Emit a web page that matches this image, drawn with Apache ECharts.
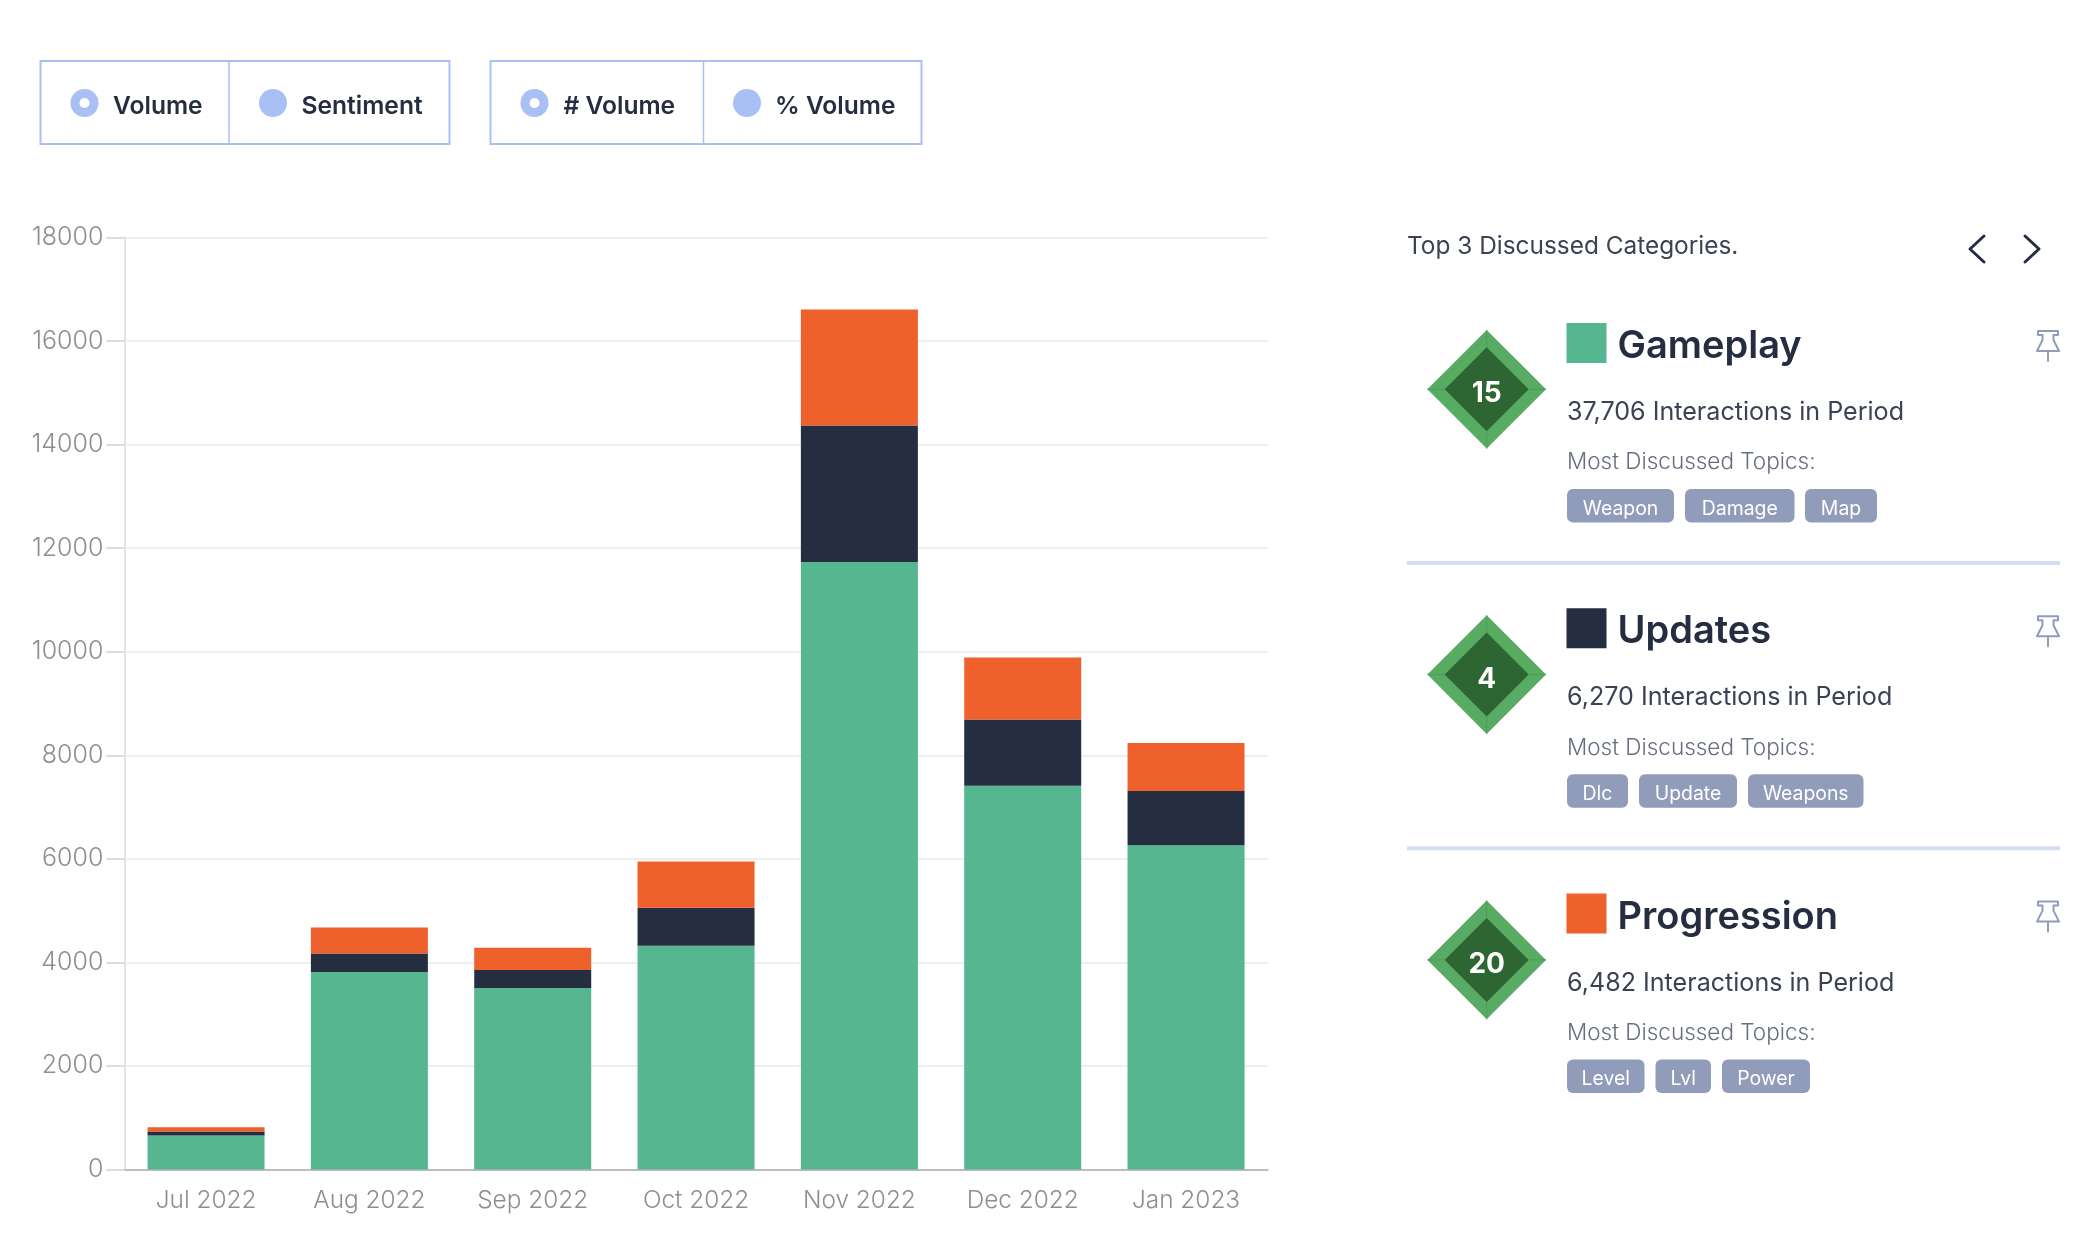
<!DOCTYPE html>
<html>
<head>
<meta charset="utf-8">
<title>Discussion volume</title>
<script src="https://cdn.jsdelivr.net/npm/echarts@6/dist/echarts.min.js"></script>
<style>
  html, body { margin: 0; padding: 0; background: #fff; }
  #chart { width: 2080px; height: 1246px; }
</style>
</head>
<body>
<div id="chart"></div>
<script>
// Monthly interactions per discussion category
const categories = ['Jul 2022', 'Aug 2022', 'Sep 2022', 'Oct 2022', 'Nov 2022', 'Dec 2022', 'Jan 2023'];
const gameplay = [657, 3815, 3505, 4322, 11735, 7410, 6262];
const updates = [77, 355, 350, 735, 2635, 1280, 1050];
const progression = [83, 505, 430, 890, 2240, 1197, 925];

// Side panel content
const panelTitle = 'Top 3 Discussed Categories.';
const cardNames = ['Gameplay', 'Updates', 'Progression'];
const cardInteractions = ['37,706', '6,270', '6,482'];
const cardRanks = ['15', '4', '20'];
const cardTopics = [['Weapon', 'Damage', 'Map'], ['Dlc', 'Update', 'Weapons'], ['Level', 'Lvl', 'Power']];

// Toggle groups above the chart
const toggleLabels = ['Volume', 'Sentiment', '# Volume', '% Volume'];

const GREEN = '#55B690', NAVY = '#252D40', ORANGE = '#EE612D';
const SWATCHES = [GREEN, NAVY, ORANGE];
const FONT = 'Inter, "Open Sans", sans-serif';
const ACCENT = '#A9C0F5';
const PIN = '#919CBB';

// Panel layout
const CARD_PITCH = 285.3;
const TAG_SPANS = [
  [[1567, 1674], [1685, 1794.5], [1805, 1877]],
  [[1567, 1628], [1639, 1737], [1748, 1863.5]],
  [[1567, 1644.5], [1655.5, 1711], [1722, 1810]]
];

const el = [];
const text = (x, y, t, size, color, weight, align) => el.push({
  type: 'text', silent: true,
  style: { x, y, text: t, fontFamily: FONT, fontSize: size, fontWeight: weight || 400,
           fill: color, align: align || 'left', verticalAlign: 'middle' }
});
const rect = (x, y, w, h, style, r) => el.push({
  type: 'rect', silent: true, shape: { x, y, width: w, height: h, r: r || 0 }, style
});
const poly = (points, style) => el.push({ type: 'polygon', silent: true, shape: { points }, style });
const line = (points, color, width) => el.push({
  type: 'polyline', silent: true, shape: { points },
  style: { stroke: color, lineWidth: width, fill: null, lineCap: 'round', lineJoin: 'round' }
});

// Toggle frames and radio marks
[[40.5, 229, 449.5], [490.5, 703.5, 921.5]].forEach(([a, b, c]) => {
  rect(a, 61, c - a, 83, { fill: '#fff', stroke: ACCENT, lineWidth: 2 });
  line([[b, 61], [b, 144]], ACCENT, 1.5);
});
[[84.5, 113, true], [273, 301.5, false], [534.5, 563.5, true], [747, 775, false]].forEach(([cx, tx, on], i) => {
  el.push({ type: 'circle', silent: true, shape: { cx, cy: 103, r: 14 }, style: { fill: ACCENT } });
  if (on) el.push({ type: 'circle', silent: true, shape: { cx, cy: 103, r: 5 }, style: { fill: '#fff' } });
  text(tx, 107, toggleLabels[i], 24.6, NAVY, 600);
});

// Panel heading and pager chevrons
text(1407, 246.5, panelTitle, 24.4, '#3A4254', 400);
line([[1984, 236], [1970, 249], [1984, 262]], NAVY, 3);
line([[2025, 236], [2039, 249], [2025, 262]], NAVY, 3);

cardNames.forEach((name, i) => {
  const dy = i * CARD_PITCH;
  const cx = 1486.7, cy = 389.3 + dy;
  // Rank badge: outer diamond with bevel seams, inner diamond, number
  poly([[cx, cy - 59.3], [cx + 59.3, cy], [cx, cy + 59.3], [cx - 59.3, cy]], { fill: '#57AB62' });
  line([[cx, cy - 59], [cx, cy - 42]], '#4E9E59', 1);
  line([[cx, cy + 59], [cx, cy + 42]], '#4E9E59', 1);
  line([[cx - 59, cy], [cx - 42, cy]], '#4E9E59', 1);
  line([[cx + 59, cy], [cx + 42, cy]], '#4E9E59', 1);
  poly([[cx, cy - 42], [cx + 42, cy], [cx, cy + 42], [cx - 42, cy]], { fill: '#2D6632' });
  text(cx, cy + 4.5, cardRanks[i], 28, '#fff', 700, 'center');

  rect(1566.5, 323 + dy, 40, 40, { fill: SWATCHES[i] });
  text(1617.5, 346.5 + dy, name, 38, NAVY, 600);
  text(1567, 412.5 + dy, cardInteractions[i] + ' Interactions in Period', 25.1, '#3A4254', 400);
  text(1567, 462.5 + dy, 'Most Discussed Topics:', 22.5, '#666D7E', 300);

  cardTopics[i].forEach((topic, j) => {
    const [a, b] = TAG_SPANS[i][j];
    rect(a, 489 + dy, b - a, 33.5, { fill: '#919CBB' }, 6);
    text((a + b) / 2, 509 + dy, topic, 19.4, '#fff', 400, 'center');
  });

  // Pin icon
  const px = 2048, py = 330 + dy;
  poly([[px - 10, py + 1], [px + 10, py + 1], [px + 10, py + 5], [px + 5.5, py + 5], [px + 5.5, py + 10],
        [px + 11, py + 21], [px - 11, py + 21], [px - 5.5, py + 10], [px - 5.5, py + 5], [px - 10, py + 5]],
       { fill: '#fff', stroke: PIN, lineWidth: 2, lineJoin: 'round' });
  line([[px, py + 22], [px, py + 31]], PIN, 2);

  if (i < 2) rect(1407, 561 + dy, 653, 4, { fill: '#D3DDF3' });
});

const barSeries = (name, data, color) => ({
  name, type: 'bar', stack: 'volume', data, barWidth: 117,
  itemStyle: { color }, silent: true, animation: false
});

const chart = echarts.init(document.getElementById('chart'), null, { renderer: 'canvas' });
chart.setOption({
  animation: false,
  backgroundColor: '#fff',
  grid: { left: 124.4, top: 237.5, width: 1143.3, height: 932, containLabel: false },
  xAxis: {
    type: 'category', data: categories,
    axisLine: { lineStyle: { color: '#BDBDBD', width: 2 } },
    axisTick: { show: false },
    axisLabel: { fontFamily: FONT, fontSize: 24.4, fontWeight: 300, color: '#8E8E8E', margin: 19 }
  },
  yAxis: {
    type: 'value', min: 0, max: 18000, interval: 2000,
    axisLine: { show: true, lineStyle: { color: '#E3E3E3', width: 2 } },
    axisTick: { show: true, length: 18, lineStyle: { color: '#DDD', width: 2 } },
    splitLine: { lineStyle: { color: '#EEEEEE', width: 2 } },
    axisLabel: { fontFamily: FONT, fontSize: 25, fontWeight: 300, color: '#8E8E8E', margin: 21, formatter: v => String(v) }
  },
  series: [
    barSeries(cardNames[0], gameplay, GREEN),
    barSeries(cardNames[1], updates, NAVY),
    barSeries(cardNames[2], progression, ORANGE)
  ],
  graphic: { elements: el }
});
</script>
</body>
</html>
